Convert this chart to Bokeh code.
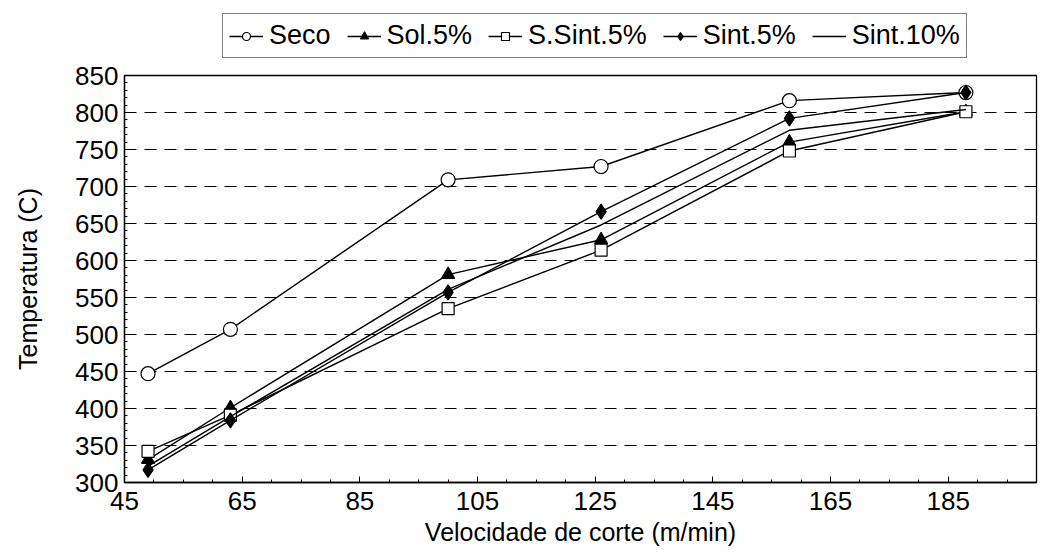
from bokeh.plotting import figure
from bokeh.layouts import column
from bokeh.models import Range1d, FixedTicker, Legend, LegendItem
from bokeh.embed import file_html
from bokeh.resources import INLINE

# Data
velocidade = [49, 63, 100, 126, 158, 188]
seco = [447, 507, 709, 727, 816, 827]
sol5 = [331, 401, 581, 628, 760, 801]
ssint5 = [342, 391, 535, 614, 748, 801]
sint5 = [317, 384, 557, 666, 792, 827]
sint10 = [322, 389, 561, 648, 776, 804]

series_names = ["Seco", "Sol.5%", "S.Sint.5%", "Sint.5%", "Sint.10%"]
x_ticks = [45, 65, 85, 105, 125, 145, 165, 185]
y_ticks = [300, 350, 400, 450, 500, 550, 600, 650, 700, 750, 800, 850]

FONT = "Liberation Sans"
LW = 1.4

styles = [
    dict(marker="circle", size=14, fill_color="white"),
    dict(marker="triangle", size=13, fill_color="black"),
    dict(marker="square", size=12, fill_color="white"),
    dict(marker="diamond", size=15, fill_color="black"),
    None,
]
series = [seco, sol5, ssint5, sint5, sint10]

# ---- main plot ----
p = figure(frame_width=912, frame_height=407, x_range=Range1d(45, 200), y_range=Range1d(300, 850),
           output_backend="svg", toolbar_location=None,
           min_border_left=124, min_border_right=4, min_border_top=16, min_border_bottom=74)

p.outline_line_color = "black"
p.outline_line_width = 1.3
p.background_fill_color = "white"
p.border_fill_color = "white"

p.xaxis.ticker = FixedTicker(ticks=x_ticks, minor_ticks=list(range(45, 201, 5)))
p.yaxis.ticker = FixedTicker(ticks=y_ticks, minor_ticks=list(range(300, 851, 10)))
for ax in (p.xaxis[0], p.yaxis[0]):
    ax.major_tick_in = 6
    ax.major_tick_out = 0
    ax.minor_tick_in = 3
    ax.minor_tick_out = 0
    ax.axis_line_color = "black"
    ax.axis_line_width = 1.3
    ax.major_tick_line_color = "black"
    ax.minor_tick_line_color = "black"
    ax.major_label_text_font = FONT
    ax.major_label_text_font_size = "26px"
    ax.major_label_text_color = "black"
    ax.axis_label_text_font = FONT
    ax.axis_label_text_font_size = "25px"
    ax.axis_label_text_font_style = "normal"
    ax.axis_label_text_color = "black"

p.xaxis.axis_label = "Velocidade de corte (m/min)"
p.yaxis.axis_label = "Temperatura (C)"
p.xaxis.major_label_standoff = 9
p.xaxis.axis_label_standoff = 5
p.yaxis.major_label_standoff = 6
p.yaxis.axis_label_standoff = 30

p.xgrid.grid_line_color = None
p.ygrid.grid_line_color = "black"
p.ygrid.grid_line_dash = "12 8"
p.ygrid.grid_line_width = 1.2

for ys, st in zip(series, styles):
    p.line(velocidade, ys, line_color="black", line_width=LW)
    if st is not None:
        p.scatter(velocidade, ys, line_color="black", line_width=1.2, **st)

# ---- legend strip above the plot (same series, outside its visible range) ----
lf = figure(frame_width=912, height=59, x_range=Range1d(0, 1), y_range=Range1d(0, 1),
            output_backend="svg", toolbar_location=None,
            min_border_left=124, min_border_right=4, min_border_top=0, min_border_bottom=0)
lf.axis.visible = False
lf.grid.visible = False
lf.outline_line_color = None
lf.background_fill_color = "white"
lf.border_fill_color = "white"

items = []
for name, ys, st in zip(series_names, series, styles):
    rs = [lf.line(velocidade, ys, line_color="black", line_width=LW)]
    if st is not None:
        rs.append(lf.scatter(velocidade, ys, line_color="black", line_width=1.2, **st))
    items.append(LegendItem(label=name, renderers=rs))

legend = Legend(items=items, orientation="horizontal", location=(98, 1),
                border_line_color="black", border_line_width=1.2,
                label_text_font=FONT, label_text_font_size="27px", label_text_color="black",
                glyph_width=34, glyph_height=20, label_standoff=6, spacing=16,
                padding=6, margin=0, background_fill_color="white")
lf.add_layout(legend, "center")

layout = column(lf, p, spacing=0)
open("out.html", "w").write(file_html(layout, INLINE))
